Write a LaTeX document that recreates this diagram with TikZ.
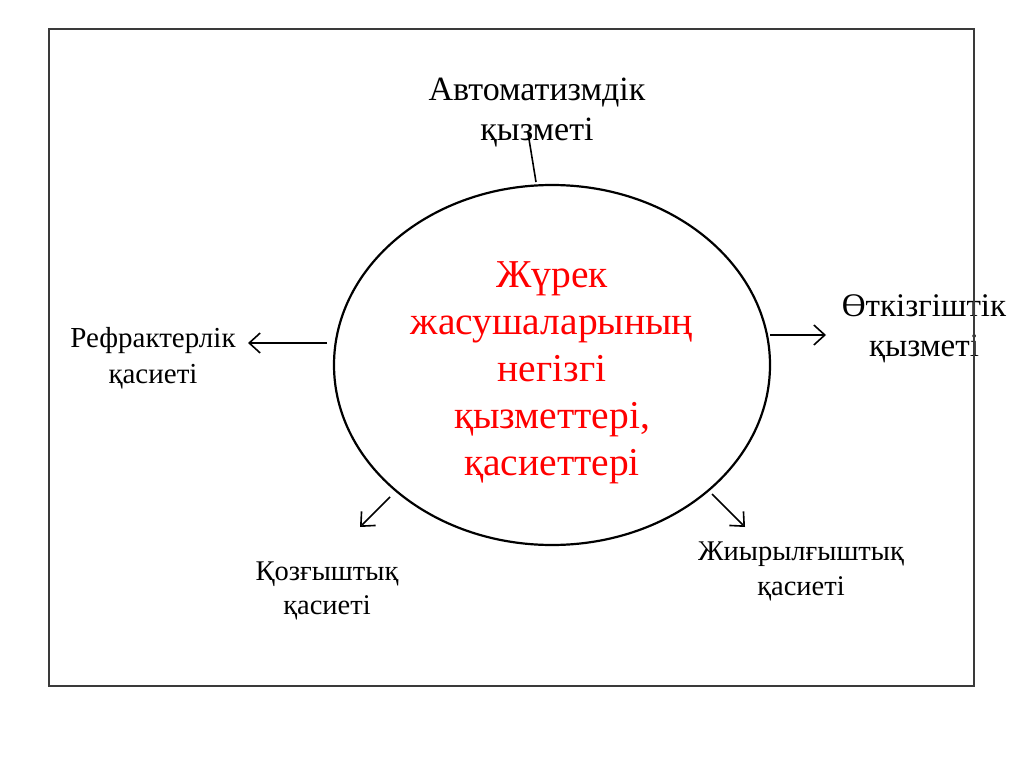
\documentclass[tikz,border=0pt]{standalone}
\usepackage{fontspec}
\setmainfont{Liberation Serif}
\usetikzlibrary{arrows.meta,shapes.geometric}
\definecolor{framegray}{HTML}{3A3A3A}
\definecolor{txtred}{HTML}{FF0000}
\tikzset{
  lbl/.style={inner sep=0pt, anchor=base, text=black},
  conn/.style={draw=black, line width=1.6pt, -{Straight Barb[length=11pt, width=20pt, line width=1.6pt]}},
  plainconn/.style={draw=black, line width=1.6pt},
}
\begin{document}
\begin{tikzpicture}[x=1pt,y=-1pt]
\useasboundingbox (0,0) rectangle (1024,767);
\fill[white] (0,0) rectangle (1024,767);
% central ellipse
\node[ellipse, draw=black, line width=2.2pt, minimum width=436pt, minimum height=360pt, inner sep=0pt] (core) at (552,365) {};
\node[lbl, text=txtred, font=\fontsize{39.5}{47}\selectfont] (coretxt) at (552,287)
  {\begin{tabular}[t]{@{}c@{}}Жүрек\\жасушаларының\\негізгі\\қызметтері,\\қасиеттері\end{tabular}};
% outer labels
\node[lbl, font=\fontsize{34}{40}\selectfont] (top) at (537,101)
  {\begin{tabular}[t]{@{}c@{}}Автоматизмдік\\қызметі\end{tabular}};
\node[lbl, font=\fontsize{29}{36}\selectfont] (left) at (153,347)
  {\begin{tabular}[t]{@{}c@{}}Рефрактерлік\\қасиеті\end{tabular}};
\node[lbl, font=\fontsize{33}{40}\selectfont] (right) at (924,316)
  {\begin{tabular}[t]{@{}c@{}}Өткізгіштік\\қызметі\end{tabular}};
\node[lbl, font=\fontsize{28.5}{34}\selectfont] (bl) at (327,580)
  {\begin{tabular}[t]{@{}c@{}}Қозғыштық\\қасиеті\end{tabular}};
\node[lbl, font=\fontsize{28.5}{35}\selectfont] (br) at (801,560)
  {\begin{tabular}[t]{@{}c@{}}Жиырылғыштық\\қасиеті\end{tabular}};
% connector end points
\coordinate (tS) at (536,182);
\coordinate (tE) at (528,133);
\coordinate (lS) at (327,343);
\coordinate (lE) at (248,343);
\coordinate (rS) at (770,335);
\coordinate (rE) at (826,335);
\coordinate (blS) at (390,497);
\coordinate (blE) at (360,527);
\coordinate (brS) at (712,494);
\coordinate (brE) at (745,527);
\draw[plainconn] (tS) -- (tE);
\draw[conn] (lS) -- (lE);
\draw[conn] (rS) -- (rE);
\draw[conn] (blS) -- (blE);
\draw[conn] (brS) -- (brE);
% frame
\draw[framegray, line width=1.8pt] (49,29) rectangle (974,686);
\end{tikzpicture}
\end{document}
